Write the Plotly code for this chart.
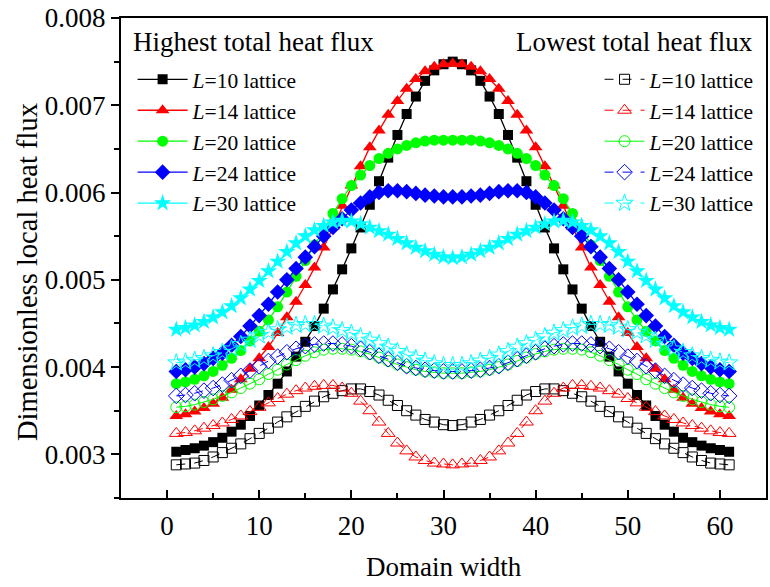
import plotly.graph_objects as go

domain_x = list(range(1, 62))

high_L10 = [0.00303, 0.00305, 0.00307, 0.00310, 0.00314, 0.00319, 0.00326, 0.00334, 0.00344, 0.00356,
            0.00368, 0.00381, 0.00395, 0.00412, 0.00429, 0.00447, 0.00467, 0.00489, 0.00512, 0.00536,
            0.00560, 0.00586, 0.00613, 0.00640, 0.00666, 0.00690, 0.00710, 0.00728, 0.00740, 0.00747,
            0.00750,
            0.00747, 0.00740, 0.00728, 0.00710, 0.00690, 0.00666, 0.00640, 0.00613, 0.00586, 0.00560,
            0.00536, 0.00512, 0.00489, 0.00467, 0.00447, 0.00429, 0.00412, 0.00395, 0.00381, 0.00368,
            0.00356, 0.00344, 0.00334, 0.00326, 0.00319, 0.00314, 0.00310, 0.00307, 0.00305, 0.00303]
high_L14 = [0.00344, 0.00346, 0.00349, 0.00353, 0.00358, 0.00365, 0.00374, 0.00386, 0.00398, 0.00410,
            0.00423, 0.00439, 0.00457, 0.00475, 0.00494, 0.00514, 0.00537, 0.00561, 0.00585, 0.00608,
            0.00630, 0.00652, 0.00671, 0.00689, 0.00705, 0.00719, 0.00730, 0.00739, 0.00744, 0.00747,
            0.00748,
            0.00747, 0.00744, 0.00739, 0.00730, 0.00719, 0.00705, 0.00689, 0.00671, 0.00652, 0.00630,
            0.00608, 0.00585, 0.00561, 0.00537, 0.00514, 0.00494, 0.00475, 0.00457, 0.00439, 0.00423,
            0.00410, 0.00398, 0.00386, 0.00374, 0.00365, 0.00358, 0.00353, 0.00349, 0.00346, 0.00344]
high_L20 = [0.00381, 0.00383, 0.00386, 0.00390, 0.00395, 0.00402, 0.00410, 0.00419, 0.00430, 0.00441,
            0.00454, 0.00469, 0.00486, 0.00504, 0.00522, 0.00540, 0.00558, 0.00576, 0.00593, 0.00608,
            0.00620, 0.00631, 0.00639, 0.00645, 0.00650, 0.00654, 0.00657, 0.00659, 0.00660, 0.00660,
            0.00660,
            0.00660, 0.00660, 0.00659, 0.00657, 0.00654, 0.00650, 0.00645, 0.00639, 0.00631, 0.00620,
            0.00608, 0.00593, 0.00576, 0.00558, 0.00540, 0.00522, 0.00504, 0.00486, 0.00469, 0.00454,
            0.00441, 0.00430, 0.00419, 0.00410, 0.00402, 0.00395, 0.00390, 0.00386, 0.00383, 0.00381]
high_L24 = [0.00395, 0.00397, 0.00400, 0.00404, 0.00410, 0.00416, 0.00425, 0.00435, 0.00447, 0.00459,
            0.00472, 0.00486, 0.00500, 0.00513, 0.00526, 0.00538, 0.00550, 0.00560, 0.00570, 0.00580,
            0.00588, 0.00595, 0.00600, 0.00602, 0.00602, 0.00601, 0.00599, 0.00597, 0.00596, 0.00595,
            0.00595,
            0.00595, 0.00596, 0.00597, 0.00599, 0.00601, 0.00602, 0.00602, 0.00600, 0.00595, 0.00588,
            0.00580, 0.00570, 0.00560, 0.00550, 0.00538, 0.00526, 0.00513, 0.00500, 0.00486, 0.00472,
            0.00459, 0.00447, 0.00435, 0.00425, 0.00416, 0.00410, 0.00404, 0.00400, 0.00397, 0.00395]
high_L30 = [0.00443, 0.00445, 0.00448, 0.00452, 0.00457, 0.00463, 0.00470, 0.00479, 0.00489, 0.00499,
            0.00510, 0.00521, 0.00532, 0.00542, 0.00550, 0.00557, 0.00562, 0.00566, 0.00568, 0.00567,
            0.00564, 0.00560, 0.00556, 0.00552, 0.00547, 0.00542, 0.00537, 0.00533, 0.00529, 0.00526,
            0.00525,
            0.00526, 0.00529, 0.00533, 0.00537, 0.00542, 0.00547, 0.00552, 0.00556, 0.00560, 0.00564,
            0.00567, 0.00568, 0.00566, 0.00562, 0.00557, 0.00550, 0.00542, 0.00532, 0.00521, 0.00510,
            0.00499, 0.00489, 0.00479, 0.00470, 0.00463, 0.00457, 0.00452, 0.00448, 0.00445, 0.00443]

low_L10 = [0.00288, 0.00289, 0.00290, 0.00293, 0.00297, 0.00302, 0.00307, 0.00312, 0.00318, 0.00324,
           0.00330, 0.00337, 0.00343, 0.00349, 0.00355, 0.00361, 0.00366, 0.00370, 0.00373, 0.00375,
           0.00375, 0.00372, 0.00368, 0.00362, 0.00356, 0.00350, 0.00345, 0.00340, 0.00337, 0.00334,
           0.00333,
           0.00334, 0.00337, 0.00340, 0.00345, 0.00350, 0.00356, 0.00362, 0.00368, 0.00372, 0.00375,
           0.00375, 0.00373, 0.00370, 0.00366, 0.00361, 0.00355, 0.00349, 0.00343, 0.00337, 0.00330,
           0.00324, 0.00318, 0.00312, 0.00307, 0.00302, 0.00297, 0.00293, 0.00290, 0.00289, 0.00288]
low_L14 = [0.00324, 0.00325, 0.00327, 0.00330, 0.00333, 0.00336, 0.00340, 0.00344, 0.00349, 0.00354,
           0.00359, 0.00364, 0.00369, 0.00373, 0.00376, 0.00378, 0.00379, 0.00379, 0.00376, 0.00370,
           0.00361, 0.00350, 0.00337, 0.00324, 0.00313, 0.00304, 0.00297, 0.00293, 0.00290, 0.00289,
           0.00288,
           0.00289, 0.00290, 0.00293, 0.00297, 0.00304, 0.00313, 0.00324, 0.00337, 0.00350, 0.00361,
           0.00370, 0.00376, 0.00379, 0.00379, 0.00378, 0.00376, 0.00373, 0.00369, 0.00364, 0.00359,
           0.00354, 0.00349, 0.00344, 0.00340, 0.00336, 0.00333, 0.00330, 0.00327, 0.00325, 0.00324]
low_L20 = [0.00354, 0.00355, 0.00357, 0.00360, 0.00363, 0.00367, 0.00371, 0.00376, 0.00381, 0.00386,
           0.00392, 0.00397, 0.00403, 0.00408, 0.00413, 0.00417, 0.00420, 0.00421, 0.00421, 0.00420,
           0.00418, 0.00415, 0.00411, 0.00407, 0.00403, 0.00400, 0.00397, 0.00395, 0.00394, 0.00393,
           0.00393,
           0.00393, 0.00394, 0.00395, 0.00397, 0.00400, 0.00403, 0.00407, 0.00411, 0.00415, 0.00418,
           0.00420, 0.00421, 0.00421, 0.00420, 0.00417, 0.00413, 0.00408, 0.00403, 0.00397, 0.00392,
           0.00386, 0.00381, 0.00376, 0.00371, 0.00367, 0.00363, 0.00360, 0.00357, 0.00355, 0.00354]
low_L24 = [0.00367, 0.00368, 0.00370, 0.00373, 0.00376, 0.00380, 0.00385, 0.00390, 0.00396, 0.00401,
           0.00407, 0.00412, 0.00417, 0.00421, 0.00424, 0.00426, 0.00427, 0.00427, 0.00426, 0.00424,
           0.00421, 0.00417, 0.00413, 0.00409, 0.00405, 0.00401, 0.00399, 0.00397, 0.00396, 0.00395,
           0.00395,
           0.00395, 0.00396, 0.00397, 0.00399, 0.00401, 0.00405, 0.00409, 0.00413, 0.00417, 0.00421,
           0.00424, 0.00426, 0.00427, 0.00427, 0.00426, 0.00424, 0.00421, 0.00417, 0.00412, 0.00407,
           0.00401, 0.00396, 0.00390, 0.00385, 0.00380, 0.00376, 0.00373, 0.00370, 0.00368, 0.00367]
low_L30 = [0.00405, 0.00406, 0.00408, 0.00410, 0.00413, 0.00417, 0.00421, 0.00426, 0.00431, 0.00436,
           0.00440, 0.00443, 0.00446, 0.00448, 0.00449, 0.00449, 0.00447, 0.00445, 0.00442, 0.00439,
           0.00435, 0.00431, 0.00427, 0.00423, 0.00418, 0.00414, 0.00410, 0.00407, 0.00404, 0.00402,
           0.00402,
           0.00402, 0.00404, 0.00407, 0.00410, 0.00414, 0.00418, 0.00423, 0.00427, 0.00431, 0.00435,
           0.00439, 0.00442, 0.00445, 0.00447, 0.00449, 0.00449, 0.00448, 0.00446, 0.00443, 0.00440,
           0.00436, 0.00431, 0.00426, 0.00421, 0.00417, 0.00413, 0.00410, 0.00408, 0.00406, 0.00405]

series_names = ["<i>L</i>=10 lattice", "<i>L</i>=14 lattice", "<i>L</i>=20 lattice",
                "<i>L</i>=24 lattice", "<i>L</i>=30 lattice"]
high_series = [high_L10, high_L14, high_L20, high_L24, high_L30]
low_series = [low_L10, low_L14, low_L20, low_L24, low_L30]
y_tick_vals = [0.003, 0.004, 0.005, 0.006, 0.007, 0.008]
x_tick_vals = [0, 10, 20, 30, 40, 50, 60]

colors = ["#000000", "#FF0000", "#00FF00", "#0000FF", "#00FFFF"]
high_symbols = ["square", "triangle-up", "circle", "diamond", "star"]
low_symbols = ["square-open", "triangle-up-open", "circle-open", "diamond-open", "star-open"]
high_sizes = [10, 12, 11, 12, 13]
low_sizes = [10, 12, 11, 12, 13]
low_dash = ["dash", "dash", "solid", "dash", "dash"]

FONT = "Liberation Serif"
LEG_SIZE = 21.5

fig = go.Figure()
for i in range(5):
    fig.add_trace(go.Scatter(
        x=domain_x, y=high_series[i], name=series_names[i], mode="lines+markers",
        line=dict(color=colors[i], width=1.3),
        marker=dict(symbol=high_symbols[i], size=high_sizes[i], color=colors[i],
                    line=dict(width=0)),
        legend="legend"))
for i in range(5):
    fig.add_trace(go.Scatter(
        x=domain_x, y=low_series[i], name=series_names[i], mode="lines+markers",
        line=dict(color=colors[i], width=1, dash=low_dash[i]),
        marker=dict(symbol=low_symbols[i], size=low_sizes[i], color=colors[i],
                    line=dict(width=1, color=colors[i])),
        legend="legend2"))

fig.update_layout(
    width=770, height=587,
    margin=dict(l=121, r=2, t=18, b=89),
    paper_bgcolor="white", plot_bgcolor="white",
    font=dict(family=FONT, size=23, color="black"),
    showlegend=True,
    legend=dict(x=0.018, y=0.915, xanchor="left", yanchor="top",
                bgcolor="rgba(0,0,0,0)", font=dict(family=FONT, size=LEG_SIZE, color="black"),
                tracegroupgap=0, itemwidth=50),
    legend2=dict(x=0.99, y=0.915, xanchor="right", yanchor="top",
                 bgcolor="rgba(0,0,0,0)", font=dict(family=FONT, size=LEG_SIZE, color="black"),
                 tracegroupgap=0, itemwidth=40),
    xaxis=dict(range=[-5, 65], tickvals=x_tick_vals, ticks="inside", ticklen=8,
               tickwidth=1.5, tickcolor="black",
               minor=dict(dtick=5, ticks="inside", ticklen=5, tickwidth=1.5, tickcolor="black"),
               showline=True, linewidth=2, linecolor="black", mirror=True,
               showgrid=False, zeroline=False,
               tickfont=dict(family=FONT, size=27, color="black"), ticklabelstandoff=3),
    yaxis=dict(range=[0.0025, 0.008], tickvals=y_tick_vals, tickformat=".3f",
               ticks="outside", ticklen=8, tickwidth=1.5, tickcolor="black",
               minor=dict(dtick=0.0005, ticks="outside", ticklen=5, tickwidth=1.5, tickcolor="black"),
               showline=True, linewidth=2, linecolor="black", mirror=True,
               showgrid=False, zeroline=False,
               tickfont=dict(family=FONT, size=27, color="black")),
    annotations=[
        dict(text="Highest total heat flux", xref="paper", yref="paper",
             x=0.016, y=0.95, xanchor="left", yanchor="middle", showarrow=False,
             font=dict(family=FONT, size=27, color="black")),
        dict(text="Lowest total heat flux", xref="paper", yref="paper",
             x=0.983, y=0.95, xanchor="right", yanchor="middle", showarrow=False,
             font=dict(family=FONT, size=27, color="black")),
        dict(text="Domain width", xref="paper", yref="paper",
             x=0.5, y=-0.143, xanchor="center", yanchor="middle", showarrow=False,
             font=dict(family=FONT, size=27, color="black")),
        dict(text="Dimensionless local heat flux", xref="paper", yref="paper",
             x=-0.144, y=0.471, xanchor="center", yanchor="middle", showarrow=False,
             textangle=-90, font=dict(family=FONT, size=28.5, color="black")),
    ],
)

fig.write_html("out.html", config={"displayModeBar": False},
               post_script="document.body.style.margin='0px';")
